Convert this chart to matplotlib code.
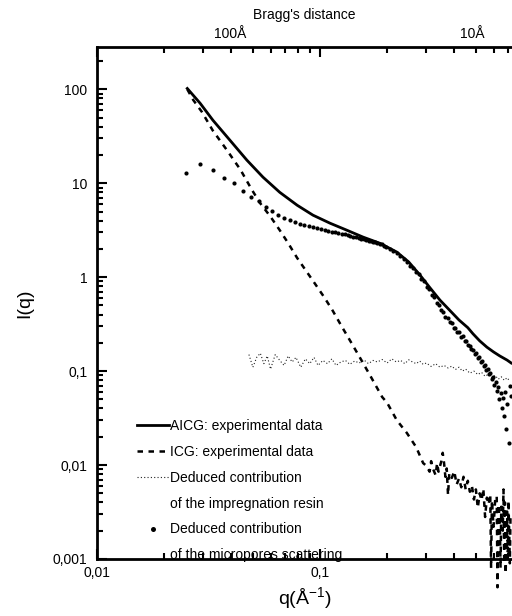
"""SAXS curves of the AICG / ICG samples, log-log"""

import matplotlib
matplotlib.use("Agg")
import matplotlib.pyplot as plt
from matplotlib.lines import Line2D
from matplotlib.ticker import LogLocator, NullFormatter, NullLocator

plt.rcParams['font.family'] = ['Liberation Sans', 'DejaVu Sans']
plt.rcParams['mathtext.fontset'] = 'custom'
plt.rcParams['mathtext.rm'] = 'Liberation Sans'
plt.rcParams['mathtext.it'] = 'Liberation Sans'

# AICG: experimental data (solid)
q_aicg = [0.0254, 0.029, 0.0331, 0.0395, 0.047, 0.0555, 0.066, 0.079, 0.093, 0.111,
          0.132, 0.156, 0.186, 0.221, 0.25, 0.281, 0.31, 0.345, 0.383, 0.42,
          0.46, 0.485, 0.52, 0.56, 0.60, 0.64, 0.69, 0.72]
i_aicg = [102, 71, 46.8, 28.6, 17.6, 11.6, 8.0, 5.83, 4.57, 3.75,
          3.16, 2.67, 2.29, 1.85, 1.45, 1.05, 0.78, 0.57, 0.44, 0.35,
          0.29, 0.25, 0.21, 0.18, 0.16, 0.145, 0.131, 0.122]

# ICG: experimental data (dashed)
q_icg = [0.0254, 0.027, 0.0296, 0.033, 0.0383, 0.044, 0.0495, 0.054, 0.06, 0.066,
         0.072, 0.079, 0.087, 0.095, 0.105, 0.114, 0.125, 0.14, 0.155, 0.17,
         0.19, 0.20, 0.221, 0.245, 0.27, 0.29,
         0.30, 0.31, 0.315, 0.32, 0.33, 0.335, 0.34, 0.35, 0.355, 0.36,
         0.365, 0.37, 0.375, 0.38, 0.39, 0.40, 0.41, 0.42, 0.43, 0.44,
         0.45, 0.46, 0.47, 0.48, 0.49, 0.50, 0.51, 0.52, 0.53, 0.54,
         0.55, 0.56, 0.57, 0.58, 0.585, 0.59, 0.60, 0.61, 0.62, 0.625,
         0.63, 0.64, 0.645, 0.65, 0.66, 0.665, 0.67, 0.675, 0.68, 0.69,
         0.695, 0.70, 0.71, 0.715]
i_icg = [100, 77, 57, 36.6, 22.4, 13.9, 8.5, 6.1, 4.4, 3.16,
         2.3, 1.6, 1.15, 0.85, 0.6, 0.44, 0.30, 0.19, 0.125, 0.085,
         0.053, 0.046, 0.030, 0.022, 0.0155, 0.0105,
         0.0098, 0.0085, 0.011, 0.0093, 0.0078, 0.0105, 0.0085, 0.011, 0.0135, 0.0105,
         0.0075, 0.0092, 0.0048, 0.0082, 0.0073, 0.0086, 0.0062, 0.0072, 0.0058, 0.0075,
         0.0055, 0.0068, 0.0052, 0.006, 0.0043, 0.0055, 0.0035, 0.005, 0.0042, 0.0056,
         0.0028, 0.0045, 0.0038, 0.0049, 0.0008, 0.0042, 0.0022, 0.0042, 0.0047, 0.0005,
         0.0038, 0.0028, 0.0008, 0.0036, 0.002, 0.0055, 0.0009, 0.004, 0.0007, 0.0032,
         0.0012, 0.0042, 0.0009, 0.003]

# deduced contribution of the impregnation resin (dotted)
q_resin = [0.048, 0.05, 0.052, 0.054, 0.056, 0.058, 0.06, 0.063, 0.066, 0.069,
           0.072, 0.075, 0.078, 0.082, 0.086, 0.09, 0.094, 0.098, 0.103, 0.108,
           0.113, 0.118, 0.124, 0.13, 0.136, 0.143, 0.15, 0.157, 0.165, 0.173,
           0.181, 0.19, 0.2, 0.21, 0.22, 0.23, 0.24, 0.25, 0.26, 0.27,
           0.28, 0.29, 0.3, 0.315, 0.33, 0.345, 0.36, 0.375, 0.39, 0.405,
           0.42, 0.435, 0.45, 0.47, 0.49, 0.51, 0.53, 0.55, 0.57, 0.59,
           0.61, 0.63, 0.65, 0.67, 0.69, 0.71]
i_resin = [0.15, 0.11, 0.14, 0.155, 0.12, 0.145, 0.105, 0.15, 0.13, 0.115,
           0.145, 0.125, 0.14, 0.11, 0.135, 0.12, 0.14, 0.115, 0.13, 0.12,
           0.135, 0.115, 0.125, 0.13, 0.118, 0.128, 0.122, 0.132, 0.12, 0.13,
           0.125, 0.133, 0.122, 0.135, 0.125, 0.13, 0.12, 0.132, 0.125, 0.12,
           0.128, 0.118, 0.122, 0.112, 0.12, 0.11, 0.115, 0.108, 0.113, 0.104,
           0.11, 0.1, 0.105, 0.095, 0.1, 0.092, 0.097, 0.088, 0.093, 0.085,
           0.09, 0.082, 0.087, 0.08, 0.085, 0.078]

# deduced contribution of the micropores scattering (dots)
q_micro = [0.025, 0.029, 0.033, 0.037, 0.041, 0.045, 0.049, 0.053, 0.057, 0.061,
           0.065, 0.069, 0.073, 0.077, 0.081, 0.085, 0.089, 0.093, 0.097, 0.101,
           0.105, 0.109, 0.113, 0.117, 0.121, 0.125, 0.129, 0.133, 0.137, 0.141,
           0.145, 0.149, 0.153, 0.157, 0.161, 0.165, 0.169, 0.173, 0.177, 0.181,
           0.185, 0.189, 0.193, 0.197,
           0.205, 0.213, 0.221, 0.229, 0.237, 0.245, 0.253, 0.261, 0.269, 0.277,
           0.285, 0.293, 0.301, 0.309, 0.317, 0.325, 0.333, 0.341, 0.349, 0.357,
           0.365, 0.373, 0.381, 0.389, 0.397, 0.405, 0.413, 0.421, 0.429, 0.437,
           0.445, 0.453, 0.461, 0.469, 0.477, 0.485, 0.493, 0.501, 0.509, 0.517,
           0.525, 0.533, 0.541, 0.549, 0.557, 0.565, 0.573, 0.581, 0.589, 0.597,
           0.605, 0.613, 0.621, 0.629, 0.637, 0.645, 0.653, 0.661, 0.669, 0.677,
           0.685, 0.693, 0.701, 0.709, 0.717]
i_micro = [12.8, 16.2, 13.9, 11.4, 10.0, 8.2, 7.1, 6.5, 5.6, 5.1,
           4.6, 4.3, 4.05, 3.85, 3.7, 3.58, 3.48, 3.4, 3.32, 3.25,
           3.18, 3.12, 3.06, 3.0, 2.95, 2.9, 2.85, 2.8, 2.75, 2.7,
           2.65, 2.6, 2.56, 2.52, 2.48, 2.45, 2.42, 2.39, 2.35, 2.32,
           2.28, 2.23, 2.17, 2.1,
           2.0, 1.9, 1.8, 1.68, 1.56, 1.46, 1.33, 1.26, 1.13, 1.07,
           0.95, 0.9, 0.78, 0.75, 0.64, 0.61, 0.53, 0.51, 0.45, 0.43,
           0.38, 0.37, 0.33, 0.325, 0.29, 0.29, 0.26, 0.26, 0.23, 0.235,
           0.21, 0.208, 0.188, 0.186, 0.17, 0.168, 0.152, 0.154, 0.138, 0.14,
           0.126, 0.127, 0.114, 0.116, 0.103, 0.106, 0.093, 0.096, 0.083, 0.086,
           0.072, 0.077, 0.062, 0.068, 0.05, 0.058, 0.04, 0.052, 0.033, 0.06,
           0.024, 0.045, 0.017, 0.07, 0.055]

y_ticks = [0.001, 0.01, 0.1, 1, 10, 100]
y_labels = ['0,001', '0,01', '0,1', '1', '10', '100']
x_ticks = [0.01, 0.1]
x_labels = ['0,01', '0,1']
bragg_q = [0.0395, 0.48]
bragg_labels = ['100Å', '10Å']


fig = plt.figure(figsize=(5.12, 6.16), dpi=100)
ax = fig.add_axes([97/512, 57/616, 415/512, 512/616])

l_aicg, = ax.plot(q_aicg, i_aicg, color='black', lw=2.0)
l_icg, = ax.plot(q_icg, i_icg, color='black', lw=1.8, ls=(0, (2.2, 2.2)),
                 clip_on=False)
l_resin, = ax.plot(q_resin, i_resin, color='#222222', lw=0.8, ls=(0, (1, 2)))
l_micro, = ax.plot(q_micro, i_micro, color='black', ls='none', marker='o',
                   ms=3.0, mew=0)

ax.set_xscale('log')
ax.set_yscale('log')
ax.set_xlim(0.01, 0.726)
ax.set_ylim(0.001, 10**2.45)

ax.set_yticks(y_ticks, y_labels)
ax.set_xticks(x_ticks, x_labels)
ax.yaxis.set_minor_locator(LogLocator(base=10, subs=range(2, 10), numticks=20))
ax.xaxis.set_minor_locator(LogLocator(base=10, subs=range(2, 10), numticks=20))
ax.yaxis.set_minor_formatter(NullFormatter())
ax.xaxis.set_minor_formatter(NullFormatter())
ax.tick_params(which='both', direction='in', top=True, right=False,
               width=1.5, labelsize=10)
ax.tick_params(which='major', length=7)
ax.tick_params(which='minor', length=4)
ax.tick_params(axis='y', pad=7)
ax.tick_params(axis='x', pad=5)
for s in ['left', 'bottom', 'top']:
    ax.spines[s].set_linewidth(2)
ax.spines['right'].set_visible(False)

ax.set_xlabel(r'q(Å$^{-1}$)', fontsize=14, labelpad=4)
ax.set_ylabel('I(q)', fontsize=14, labelpad=14)

# top axis: Bragg's distance
secax = ax.secondary_xaxis('top')
secax.set_xticks(bragg_q, bragg_labels)
secax.xaxis.set_minor_locator(NullLocator())
secax.tick_params(length=0, pad=4, labelsize=10)
secax.spines['top'].set_visible(False)
secax.set_xlabel("Bragg's distance", fontsize=10, labelpad=6)

blank = Line2D([], [], ls='none')
handles = [l_aicg, l_icg, l_resin, blank, l_micro, blank]
labels = ['AICG: experimental data', 'ICG: experimental data',
          'Deduced contribution', 'of the impregnation resin',
          'Deduced contribution', 'of the micropores scattering']
ax.legend(handles, labels, loc='upper left', bbox_to_anchor=(40/415, 0.273),
          frameon=False, fontsize=10, handlelength=2.3, handletextpad=0.1,
          labelspacing=0.85, borderpad=0, borderaxespad=0, numpoints=1,
          markerscale=1.2)

fig.savefig('out.png', dpi=100)
